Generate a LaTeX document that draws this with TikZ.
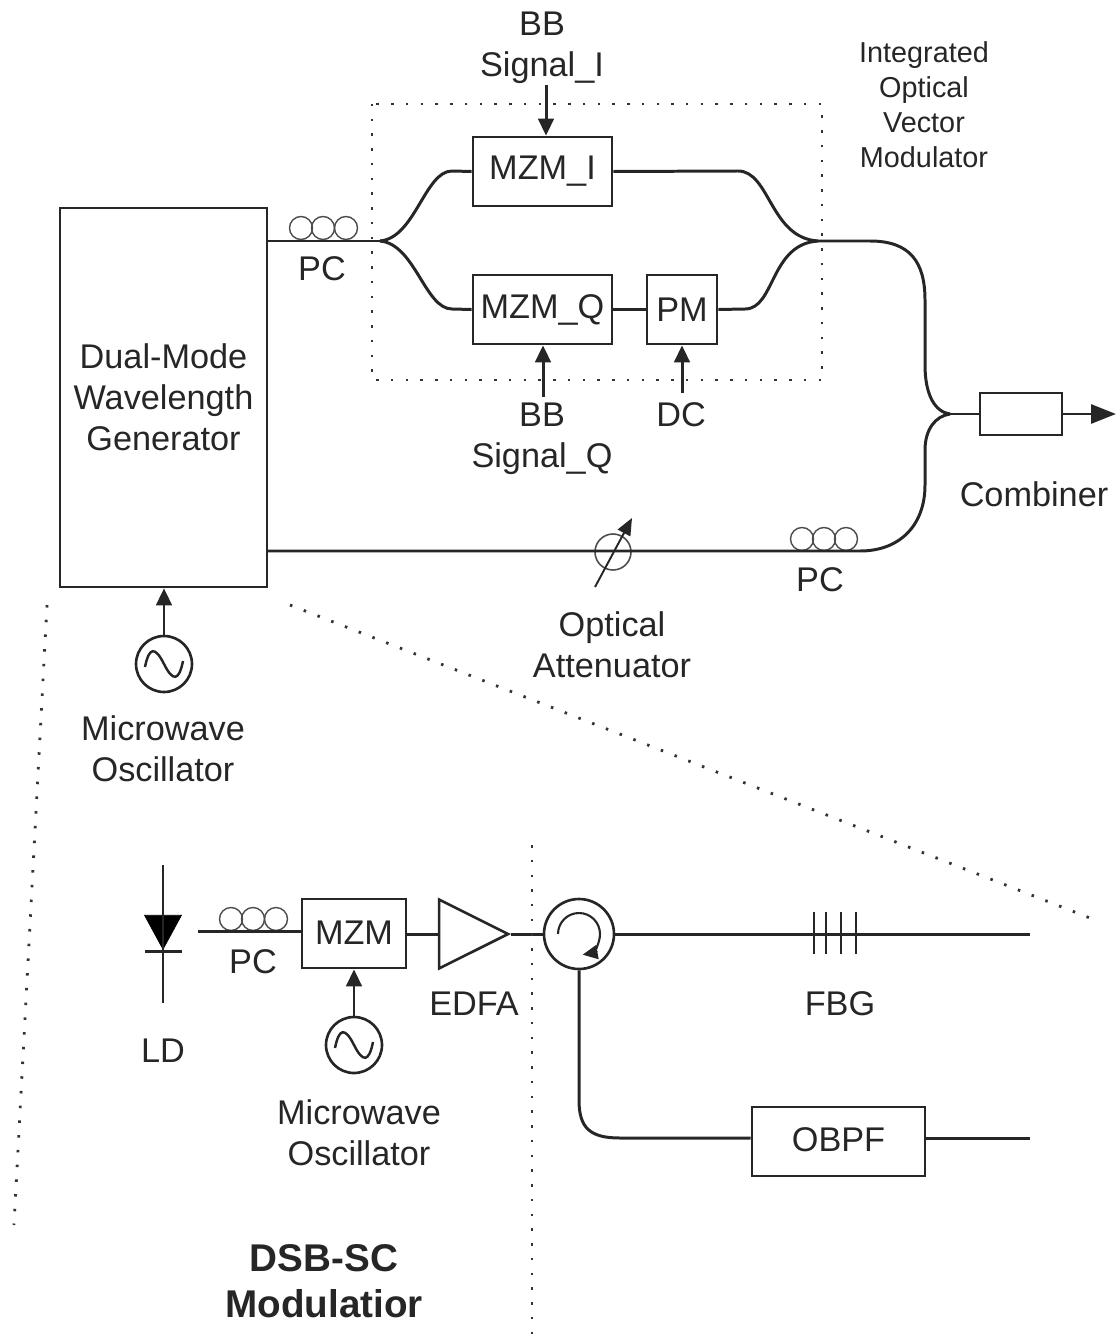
\documentclass[tikz,border=0pt]{standalone}
\usepackage{fontspec}
\setmainfont{Liberation Sans}
\usetikzlibrary{arrows.meta, calc, shapes.geometric}

\begin{document}
\begin{tikzpicture}[
    x=0.02cm, y=-0.02cm,
    every node/.style={align=center, text=black!85, font=\fontsize{19.5}{23.3}\selectfont},
    block/.style={rectangle, draw=black!85, line width=1.5pt, inner sep=0pt},
    fiber/.style={draw=black!85, line width=1.7pt},
    arrow/.style={fiber, -{Triangle[length=3.4mm,width=3.1mm]}},
    coil/.style={circle, draw=black!70, line width=0.8pt, minimum size=0.46cm, inner sep=0pt},
    osc/.style={circle, draw=black!85, line width=1.5pt, minimum size=1.12cm, inner sep=0pt},
    tinytext/.style={font=\fontsize{16.4}{19.9}\selectfont},
    frame/.style={draw=black!80, line width=1.6pt, dash pattern=on 0.05cm off 0.245cm}
]
\useasboundingbox (0,0) rectangle (1118,1335);

% --- Upper part: boxes
\node[block, minimum width=4.14cm, minimum height=7.58cm] (gen) at (163.5,397.5) {Dual-Mode\\Wavelength\\Generator};
\node[block, minimum width=2.78cm, minimum height=1.38cm] (mzmi) at (542.5,171.5) {\raisebox{-0.04cm}{MZM\_I}};
\node[block, minimum width=2.78cm, minimum height=1.38cm] (mzmq) at (542.5,309.5) {\raisebox{-0.04cm}{MZM\_Q}};
\node[block, minimum width=1.4cm, minimum height=1.38cm] (pm) at (682,309.5) {PM};
\node[block, minimum width=1.64cm, minimum height=0.84cm] (comb) at (1021,414) {};
\node[osc] (oscup) at (164,664) {};
\node[circle, draw=black!70, line width=0.9pt, minimum size=0.72cm, inner sep=0pt] (atten) at (613,552) {};

% --- Upper part: coils
\foreach \i/\xpos in {1/301,2/323,3/346}
    \node[coil] (pca\i) at (\xpos,228) {};
\foreach \i/\xpos in {1/802,2/824,3/846}
    \node[coil] (pcb\i) at (\xpos,539) {};

% --- Fibre joints
\coordinate (split) at (380,241);
\coordinate (merge) at (818,241);
\coordinate (join) at (950,414);
\coordinate (out) at (1116,414);
\coordinate (genlow) at (267,551);

% --- Upper part: fibres
\draw[fiber] (gen.east |- split) -- (split);
\draw[fiber] (split) .. controls (415,238) and (425,171) .. (452,171) -- (mzmi.west);
\draw[fiber] (split) .. controls (415,244) and (425,309) .. (452,309) -- (mzmq.west);
\draw[fiber] (mzmi.east) -- (738,171) .. controls (770,171) and (770,238) .. (merge);
\draw[fiber] (mzmq) -- (pm);
\draw[fiber] (pm.east) -- (745,309) .. controls (775,309) and (770,244) .. (merge);
\draw[fiber] (merge) -- (870,241) .. controls (910,241) and (925,262) .. (925,300) -- (925,365) .. controls (925,395) and (935,412) .. (join);
\draw[fiber] (genlow) -- (860,551) .. controls (900,551) and (925,525) .. (925,485) -- (925,450) .. controls (925,430) and (935,416) .. (join);
\draw[fiber] (join) -- (comb.west);
\draw[fiber, -{Triangle[length=5mm,width=3.8mm]}] (comb.east) -- (out);
\draw[fiber, line width=1.1pt, -{Triangle[length=3.4mm,width=2.8mm]}] (595,587) -- (632,518);

% --- Upper part: control arrows
\coordinate (bbi) at (546,85);
\coordinate (bbq) at (543,397);
\coordinate (dcin) at (682,393);
\draw[arrow] (bbi) -- (bbi |- mzmi.north);
\draw[arrow] (bbq) -- (bbq |- mzmq.south);
\draw[arrow] (dcin) -- (pm.south);
\draw[arrow] (oscup) -- (oscup |- gen.south);

% --- Upper part: labels
\node (lbbi) at (542,48) {BB\\Signal\_I};
\node (lbbq) at (542,439) {BB\\Signal\_Q};
\node (ldc) at (681,415) {DC};
\node (lpca) at (322,269) {PC};
\node (lpcb) at (820,580) {PC};
\node (lcomb) at (1034,494) {Combiner};
\node (latten) at (612,645) {Optical\\Attenuator};
\node (loscup) at (163,749) {Microwave\\Oscillator};
\node[tinytext] (lvec) at (924,105) {Integrated\\Optical\\Vector\\Modulator};

% --- Lower part: boxes
\node[block, minimum width=2.08cm, minimum height=1.38cm] (mzm) at (354,933.5) {\raisebox{0.02cm}{MZM}};
\node[block, isosceles triangle, isosceles triangle apex angle=53.1, minimum height=1.38cm, inner sep=0pt, anchor=apex] (edfa) at (511,934) {};
\node[osc] (oscdown) at (354,1045) {};
\node[circle, draw=black!85, line width=1.5pt, minimum size=1.4cm, inner sep=0pt] (circ) at (579,934) {};
\node[block, minimum width=3.46cm, minimum height=1.38cm] (obpf) at (838.5,1141.5) {\raisebox{0.06cm}{OBPF}};
\foreach \i/\xpos in {1/231,2/253,3/276}
    \node[coil] (pcc\i) at (\xpos,919) {};

% --- Lower part: laser diode
\coordinate (ldtop) at (163,865);
\coordinate (ldbot) at (163,1003);
\coordinate (ldin) at (198,931);
\node[isosceles triangle, isosceles triangle apex angle=57, fill=black, draw=black, shape border rotate=-90, minimum width=0.64cm, minimum height=0.68cm, inner sep=0pt, anchor=apex] (diode) at (163,950) {};
\draw[fiber] (ldtop) -- (ldbot);
\draw[fiber] (145,951) -- (182,951);

% --- Lower part: fibres
\coordinate (fbgend) at (1030,934);
\coordinate (obpfend) at (1030,1138);
\draw[fiber] (ldin) -- (ldin -| mzm.west);
\draw[fiber] (mzm.east |- edfa.apex) -- (edfa.west |- edfa.apex);
\draw[fiber] (edfa.apex) -- (circ.west);
\draw[fiber] (circ.east) -- (fbgend);
\draw[fiber] (circ.south) -- (579,1100) .. controls (579,1128) and (590,1138) .. (620,1138) -- (obpf.west |- obpfend);
\draw[fiber] (obpf.east |- obpfend) -- (obpfend);
\draw[arrow] (oscdown) -- (oscdown |- mzm.south);
\foreach \xpos in {814,826,841,856}
    \draw[fiber, line width=1.3pt] (\xpos,912) -- (\xpos,954);
\draw[fiber, line width=1.2pt, -{Triangle[length=3mm,width=2.8mm]}] ([shift={(180:0.42cm)}]circ.center) arc[start angle=180, end angle=-80, radius=0.42cm];

% --- Sine marks in both oscillators
\foreach \oscname in {oscup,oscdown}
    \draw[fiber, line width=1.4pt] ($(\oscname.center)+(-19,3)$) .. controls +(4,-20) and +(-9,-18) .. ($(\oscname.center)$) .. controls +(9,18) and +(-4,20) .. ($(\oscname.center)+(19,-3)$);

% --- Lower part: labels
\node (lld) at (163,1051) {LD};
\node (lpcc) at (253,962) {PC};
\node (ledfa) at (474,1004) {EDFA};
\node (lfbg) at (840,1004) {FBG};
\node (loscdown) at (359,1133) {Microwave\\Oscillator};
\node[font=\fontsize{22}{26.1}\selectfont\bfseries] (ldsb) at (324,1281) {DSB-SC\\Modulatior};

% --- Dotted frames
\coordinate (zooma) at (47,605);
\coordinate (zoomb) at (14,1225);
\coordinate (zoomc) at (290,605);
\coordinate (zoomd) at (1090,918);
\coordinate (splita) at (532,845);
\coordinate (splitb) at (532,1335);
\draw[frame] (372,104) rectangle (822,380);
\draw[frame] (zooma) -- (zoomb);
\draw[frame] (zoomc) -- (zoomd);
\draw[frame] (splita) -- (splitb);

\end{tikzpicture}
\end{document}
